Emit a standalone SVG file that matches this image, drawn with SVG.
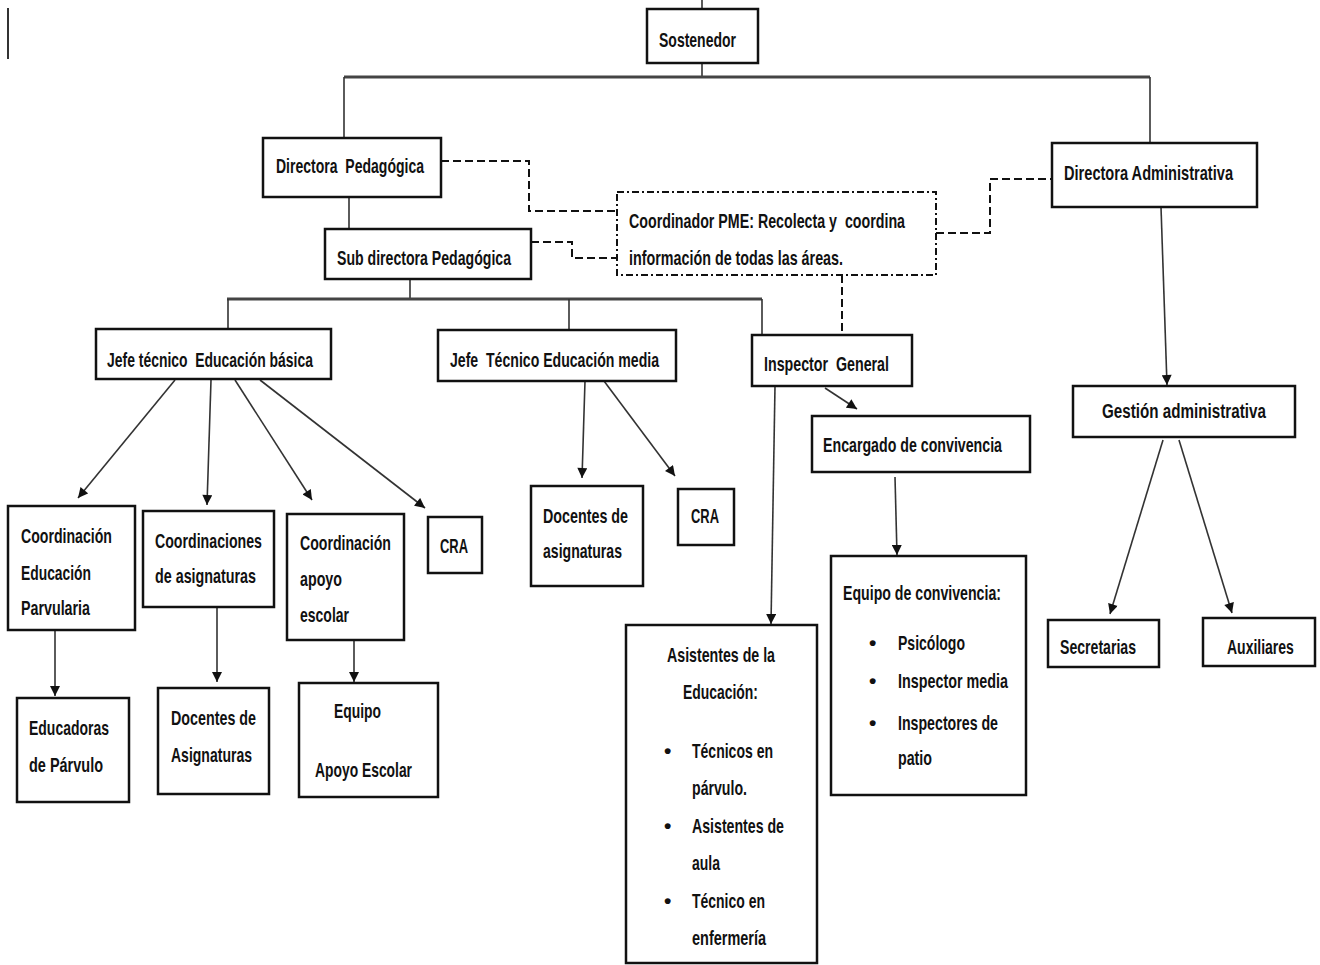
<svg xmlns="http://www.w3.org/2000/svg" width="1320" height="965" viewBox="0 0 1320 965">
<defs>
<style>
.box{fill:#fff;stroke:#111;stroke-width:2.5}
.dbox{fill:#fff;stroke:#111;stroke-width:2;stroke-dasharray:7 3 2 3}
.t{font-family:"Liberation Sans",Arial,sans-serif;font-weight:bold;font-size:21px;fill:#111;white-space:pre}
.c{fill:none;stroke:#333;stroke-width:1.6}
.thick{fill:none;stroke:#444;stroke-width:3}
.dash{fill:none;stroke:#111;stroke-width:2;stroke-dasharray:8 4}
.arr{fill:none;stroke:#333;stroke-width:1.6;marker-end:url(#ah)}
</style>
<marker id="ah" viewBox="0 0 10 10" refX="10" refY="5" markerWidth="11" markerHeight="10" markerUnits="userSpaceOnUse" orient="auto">
<path d="M0,0 L10,5 L0,10 Z" fill="#111"/>
</marker>
</defs>
<rect width="1320" height="965" fill="#fff"/>
<line x1="8" y1="8" x2="8" y2="59" stroke="#333" stroke-width="2"/>

<g id="connectors">
<path class="c" d="M702,0 V9"/>
<path class="c" d="M702,63 V77"/>
<path class="thick" d="M344,77 H1150"/>
<path class="c" d="M344,77 V138"/>
<path class="c" d="M1150,77 V143"/>
<path class="c" d="M349,197 V229"/>
<path class="c" d="M410,279 V299"/>
<path class="thick" d="M227,299 H762"/>
<path class="c" d="M228,299 V329"/>
<path class="c" d="M569,299 V330"/>
<path class="c" d="M762,299 V335"/>
<path class="dash" d="M441,161 H529 V211 H617"/>
<path class="dash" d="M531,242 H572 V258 H617"/>
<path class="dash" d="M936,233 H990 V179 H1052"/>
<path class="dash" d="M842,275 V335"/>
<path class="arr" d="M175,380 L78,498"/>
<path class="arr" d="M211,380 L207,505"/>
<path class="arr" d="M235,380 L312,500"/>
<path class="arr" d="M260,380 L425,508"/>
<path class="arr" d="M55,630 L55,696"/>
<path class="arr" d="M217,607 L217,682"/>
<path class="arr" d="M354,640 L354,682"/>
<path class="arr" d="M585,381 L582,478"/>
<path class="arr" d="M604,381 L675,476"/>
<path class="arr" d="M775,386 L771,624"/>
<path class="arr" d="M825,388 L857,409"/>
<path class="arr" d="M895,477 L897,555"/>
<path class="arr" d="M1161,207 L1167,385"/>
<path class="arr" d="M1163,440 L1110,614"/>
<path class="arr" d="M1179,440 L1232,613"/>
</g>

<g id="sostenedor"><rect class="box" x="647" y="9" width="111" height="54"/><text class="t" x="659" y="47" textLength="77" lengthAdjust="spacingAndGlyphs">Sostenedor</text></g>
<g id="directora-pedagogica"><rect class="box" x="263" y="138" width="178" height="59"/><text class="t" x="276" y="173" textLength="148" lengthAdjust="spacingAndGlyphs">Directora  Pedagógica</text></g>
<g id="subdirectora-pedagogica"><rect class="box" x="325" y="229" width="206" height="50"/><text class="t" x="337" y="265" textLength="174" lengthAdjust="spacingAndGlyphs">Sub directora Pedagógica</text></g>
<g id="coordinador-pme"><rect class="dbox" x="617" y="192" width="319" height="83"/>
<text class="t" x="629" y="228" textLength="276" lengthAdjust="spacingAndGlyphs">Coordinador PME: Recolecta y  coordina</text>
<text class="t" x="629" y="265" textLength="214" lengthAdjust="spacingAndGlyphs">información de todas las áreas.</text></g>
<g id="directora-administrativa"><rect class="box" x="1052" y="143" width="205" height="64"/><text class="t" x="1064" y="180" textLength="169" lengthAdjust="spacingAndGlyphs">Directora Administrativa</text></g>
<g id="jefe-basica"><rect class="box" x="96" y="329" width="235" height="50"/><text class="t" x="107" y="367" textLength="206" lengthAdjust="spacingAndGlyphs">Jefe técnico  Educación básica</text></g>
<g id="jefe-media"><rect class="box" x="438" y="330" width="238" height="51"/><text class="t" x="450" y="367" textLength="209" lengthAdjust="spacingAndGlyphs">Jefe  Técnico Educación media</text></g>
<g id="inspector-general"><rect class="box" x="752" y="335" width="160" height="51"/><text class="t" x="764" y="371" textLength="125" lengthAdjust="spacingAndGlyphs">Inspector  General</text></g>
<g id="encargado-convivencia"><rect class="box" x="812" y="416" width="218" height="56"/><text class="t" x="823" y="452" textLength="179" lengthAdjust="spacingAndGlyphs">Encargado de convivencia</text></g>
<g id="gestion-administrativa"><rect class="box" x="1073" y="386" width="222" height="51"/><text class="t" transform="translate(1102,418) scale(0.724,1)" x="0" y="0">Gestión administrativa</text></g>
<g id="secretarias"><rect class="box" x="1048" y="620" width="111" height="47"/><text class="t" x="1060" y="654" textLength="76" lengthAdjust="spacingAndGlyphs">Secretarias</text></g>
<g id="auxiliares"><rect class="box" x="1203" y="618" width="112" height="48"/><text class="t" transform="translate(1227,654) scale(0.667,1)" x="0" y="0">Auxiliares</text></g>

<g id="coordinacion-parvularia"><rect class="box" x="8" y="506" width="127" height="124"/>
<text class="t" x="21" y="543" textLength="91" lengthAdjust="spacingAndGlyphs">Coordinación</text>
<text class="t" x="21" y="580" textLength="70" lengthAdjust="spacingAndGlyphs">Educación</text>
<text class="t" x="21" y="615" textLength="69" lengthAdjust="spacingAndGlyphs">Parvularia</text></g>
<g id="coordinaciones-asignaturas"><rect class="box" x="143" y="511" width="131" height="96"/>
<text class="t" x="155" y="548" textLength="107" lengthAdjust="spacingAndGlyphs">Coordinaciones</text>
<text class="t" x="155" y="583" textLength="101" lengthAdjust="spacingAndGlyphs">de asignaturas</text></g>
<g id="coordinacion-apoyo"><rect class="box" x="287" y="514" width="117" height="126"/>
<text class="t" x="300" y="550" textLength="91" lengthAdjust="spacingAndGlyphs">Coordinación</text>
<text class="t" x="300" y="586" textLength="42" lengthAdjust="spacingAndGlyphs">apoyo</text>
<text class="t" x="300" y="622" textLength="49" lengthAdjust="spacingAndGlyphs">escolar</text></g>
<g id="cra-basica"><rect class="box" x="428" y="517" width="54" height="56"/><text class="t" x="440" y="553" textLength="28" lengthAdjust="spacingAndGlyphs">CRA</text></g>
<g id="educadoras-parvulo"><rect class="box" x="17" y="698" width="112" height="104"/>
<text class="t" x="29" y="735" textLength="80" lengthAdjust="spacingAndGlyphs">Educadoras</text>
<text class="t" x="29" y="772" textLength="74" lengthAdjust="spacingAndGlyphs">de Párvulo</text></g>
<g id="docentes-asignaturas-basica"><rect class="box" x="158" y="688" width="111" height="106"/>
<text class="t" x="171" y="725" textLength="85" lengthAdjust="spacingAndGlyphs">Docentes de</text>
<text class="t" x="171" y="762" textLength="81" lengthAdjust="spacingAndGlyphs">Asignaturas</text></g>
<g id="equipo-apoyo-escolar"><rect class="box" x="299" y="683" width="139" height="114"/>
<text class="t" x="334" y="718" textLength="47" lengthAdjust="spacingAndGlyphs">Equipo</text>
<text class="t" x="315" y="777" textLength="97" lengthAdjust="spacingAndGlyphs">Apoyo Escolar</text></g>
<g id="docentes-asignaturas-media"><rect class="box" x="531" y="486" width="112" height="100"/>
<text class="t" x="543" y="523" textLength="85" lengthAdjust="spacingAndGlyphs">Docentes de</text>
<text class="t" x="543" y="558" textLength="79" lengthAdjust="spacingAndGlyphs">asignaturas</text></g>
<g id="cra-media"><rect class="box" x="678" y="489" width="56" height="56"/><text class="t" x="691" y="523" textLength="28" lengthAdjust="spacingAndGlyphs">CRA</text></g>

<g id="asistentes-educacion"><rect class="box" x="626" y="625" width="191" height="338"/>
<text class="t" x="667" y="662" textLength="108" lengthAdjust="spacingAndGlyphs">Asistentes de la</text>
<text class="t" x="683" y="699" textLength="75" lengthAdjust="spacingAndGlyphs">Educación:</text>
<text class="t" x="664" y="758">•</text><text class="t" x="692" y="758" textLength="81" lengthAdjust="spacingAndGlyphs">Técnicos en</text>
<text class="t" x="692" y="795" textLength="55" lengthAdjust="spacingAndGlyphs">párvulo.</text>
<text class="t" x="664" y="833">•</text><text class="t" x="692" y="833" textLength="92" lengthAdjust="spacingAndGlyphs">Asistentes de</text>
<text class="t" x="692" y="870" textLength="28" lengthAdjust="spacingAndGlyphs">aula</text>
<text class="t" x="664" y="908">•</text><text class="t" x="692" y="908" textLength="73" lengthAdjust="spacingAndGlyphs">Técnico en</text>
<text class="t" x="692" y="945" textLength="74" lengthAdjust="spacingAndGlyphs">enfermería</text></g>

<g id="equipo-convivencia"><rect class="box" x="831" y="556" width="195" height="239"/>
<text class="t" x="843" y="600" textLength="158" lengthAdjust="spacingAndGlyphs">Equipo de convivencia:</text>
<text class="t" x="869" y="650">•</text><text class="t" x="898" y="650" textLength="67" lengthAdjust="spacingAndGlyphs">Psicólogo</text>
<text class="t" x="869" y="688">•</text><text class="t" x="898" y="688" textLength="110" lengthAdjust="spacingAndGlyphs">Inspector media</text>
<text class="t" x="869" y="730">•</text><text class="t" x="898" y="730" textLength="100" lengthAdjust="spacingAndGlyphs">Inspectores de</text>
<text class="t" x="898" y="765" textLength="34" lengthAdjust="spacingAndGlyphs">patio</text></g>
</svg>
